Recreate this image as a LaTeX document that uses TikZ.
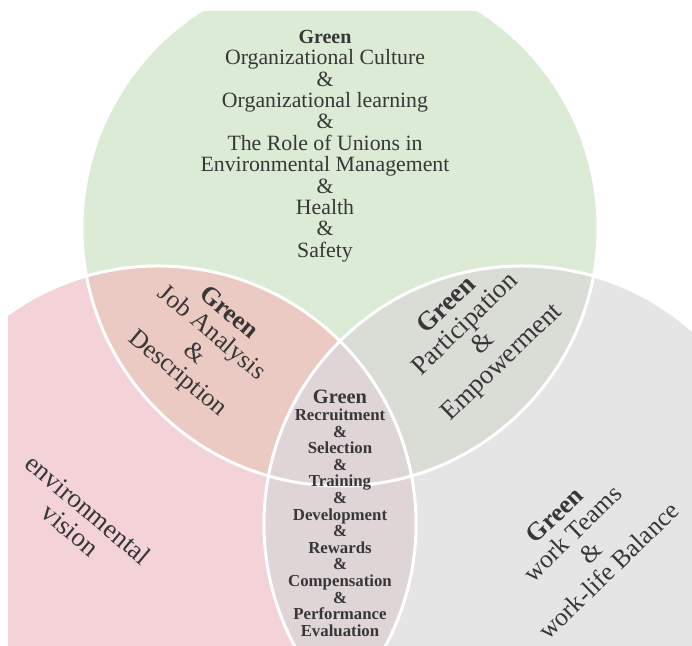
\documentclass[tikz,border=0pt]{standalone}
\usepackage{fontspec}
\setmainfont{Liberation Serif}
\definecolor{topgreen}{RGB}{220,235,213}
\definecolor{leftpink}{RGB}{243,211,216}
\definecolor{rightgray}{RGB}{229,229,229}
\definecolor{jobpink}{RGB}{234,202,195}
\definecolor{partgray}{RGB}{218,220,214}
\definecolor{midmauve}{RGB}{223,213,215}
\definecolor{txtgray}{RGB}{55,55,55}
\begin{document}
\begin{tikzpicture}[x=0.5pt,y=0.5pt,line join=round,
        txt/.style={align=center,text=txtgray,inner sep=0pt},
        rim/.style={draw=white,line width=1.5pt}]
    \useasboundingbox (0,0) rectangle (692,646);
    \def\R{258}
    \coordinate (T) at (340,418);
    \coordinate (L) at (158,122);
    \coordinate (Rt) at (522,122);
    \begin{scope}
        \clip (8,0) rectangle (692,634);
        \fill[topgreen] (T) circle (\R);
        \fill[leftpink] (L) circle (\R);
        \fill[rightgray] (Rt) circle (\R);
        % overlaps
        \begin{scope}
            \clip (T) circle (\R);
            \fill[jobpink] (L) circle (\R);
            \fill[partgray] (Rt) circle (\R);
        \end{scope}
        \begin{scope}
            \clip (L) circle (\R);
            \fill[midmauve] (Rt) circle (\R);
        \end{scope}
        \foreach \c in {T,L,Rt} \draw[rim] (\c) circle (\R);
    \end{scope}
    \node[txt,font=\fontsize{10.9}{10.7}\selectfont] (topbox) at (325,500)
        {{\bfseries\fontsize{10}{10.7}\selectfont Green}\\Organizational Culture\\\&\\Organizational learning\\\&\\The Role of Unions in\\Environmental Management\\\&\\Health\\\&\\Safety};
    \node[txt,font=\fontsize{12.8}{13.2}\selectfont,rotate=-40] (jobbox) at (202.5,302)
        {\textbf{Green}\\Job Analysis\\\&\\Description};
    \node[txt,font=\fontsize{13.3}{13.2}\selectfont,rotate=44] (partbox) at (475,311.5)
        {\textbf{Green}\\Participation\\\&\\Empowerment};
    \node[txt,font=\fontsize{12.8}{13}\selectfont,rotate=44] (teambox) at (581.5,103)
        {\textbf{Green}\\work Teams\\\&\\work-life Balance};
    \node[txt,font=\fontsize{13.4}{13.6}\selectfont,rotate=-40] (visionbox) at (79.5,126.5)
        {environmental\\vision};
    \node[txt,font=\bfseries\fontsize{8.4}{8.3}\selectfont] (midbox) at (340,132.5)
        {{\fontsize{10.2}{10}\selectfont Green}\\Recruitment\\\&\\Selection\\\&\\Training\\\&\\Development\\\&\\Rewards\\\&\\Compensation\\\&\\Performance\\Evaluation};
\end{tikzpicture}
\end{document}
